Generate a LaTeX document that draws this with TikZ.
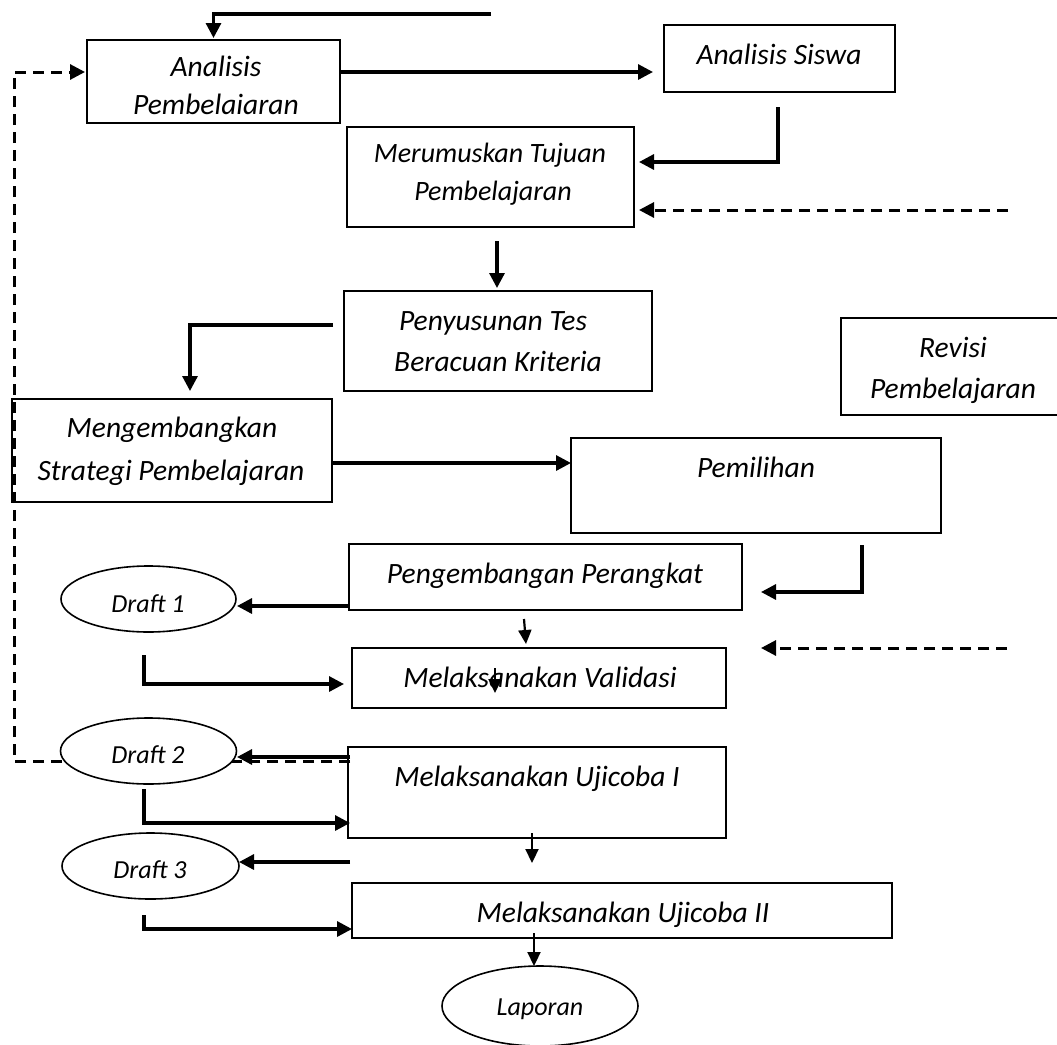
\documentclass[tikz,border=0pt]{standalone}
\usepackage{fontspec}
\setmainfont{Carlito}
\usetikzlibrary{arrows.meta,shapes.geometric}
\tikzset{
  box/.style={draw, line width=2pt, inner sep=0pt, outer sep=0pt},
  oval/.style={draw, ellipse, fill=white, line width=1.6pt, inner sep=0pt, outer sep=0pt},
  txt/.style={font=\fontsize{29.5}{34}\selectfont\itshape, inner sep=0pt, anchor=base},
  mtxt/.style={font=\fontsize{28}{34}\selectfont\itshape, inner sep=0pt, anchor=base},
  stxt/.style={font=\fontsize{26}{32}\selectfont\itshape, inner sep=0pt, anchor=base},
  arr/.style={line width=3.2pt, -{Triangle[length=15pt,width=15pt]}},
  thinarr/.style={line width=2.2pt, -{Triangle[length=14pt,width=13pt]}},
  darr/.style={line width=3pt, dash pattern=on 11pt off 7pt, -{Triangle[length=15pt,width=15pt]}},
}
\begin{document}
\begin{tikzpicture}[x=1pt,y=-1pt]
\useasboundingbox (0,0) rectangle (1057,1044);
% boxes
\node[box, minimum width=253, minimum height=83] (ap) at (213.5,81.5) {};
\node[box, minimum width=231, minimum height=67] (as) at (779.5,58.5) {};
\node[box, minimum width=287, minimum height=100] (mt) at (490.5,177) {};
\node[box, minimum width=308, minimum height=100] (pt) at (498,341) {};
\node[box, minimum width=221, minimum height=97] (rp) at (951.5,366.5) {};
\node[box, minimum width=320, minimum height=103] (me) at (172,450.5) {};
\node[box, minimum width=370, minimum height=95] (pem) at (756,485.5) {};
\node[box, minimum width=393, minimum height=66] (pp) at (545.5,577) {};
\node[box, minimum width=374, minimum height=60] (mv) at (539,678) {};
\node[box, minimum width=378, minimum height=91] (u1) at (537,792.5) {};
\node[box, minimum width=540, minimum height=55] (u2) at (622,910.5) {};
% dashed feedback line (behind ellipses)
\coordinate (fbc) at (14,761);
\draw[darr] ([xshift=2pt,yshift=31.5pt]u1.west) -- (fbc) |- ([xshift=-2pt,yshift=9.5pt]ap.west);
% ellipses
\node[oval, minimum width=175, minimum height=66] (d1) at (148.5,599) {};
\node[oval, minimum width=176, minimum height=66] (d2) at (148.5,751) {};
\node[oval, minimum width=177, minimum height=66] (d3) at (150.5,866) {};
\node[oval, minimum width=196, minimum height=80] (lap) at (540,1006) {};
% texts
\node[txt] (ap1) at (216,76) {Analisis};
\node[txt] (ap2) at (216,114) {Pembelaiaran};
\node[txt] (as1) at (779,64) {Analisis Siswa};
\node[mtxt] (mt1) at (490,162) {Merumuskan Tujuan};
\node[mtxt] (mt2) at (493,200) {Pembelajaran};
\node[txt] (pt1) at (493,330) {Penyusunan Tes};
\node[txt] (pt2) at (498,371) {Beracuan Kriteria};
\node[txt] (rp1) at (953,357) {Revisi};
\node[txt] (rp2) at (953,398) {Pembelajaran};
\node[txt] (me1) at (172,437) {Mengembangkan};
\node[txt] (me2) at (171,480) {Strategi Pembelajaran};
\node[txt] (pem1) at (756,477) {Pemilihan};
\node[txt] (pp1) at (545,583) {Pengembangan Perangkat};
\node[txt] (mv1) at (540,687) {Melaksanakan Validasi};
\node[txt] (u11) at (537,786) {Melaksanakan Ujicoba I};
\node[txt] (u21) at (623,922) {Melaksanakan Ujicoba II};
\node[stxt] (d1t) at (148,612) {Draft 1};
\node[stxt] (d2t) at (148,763) {Draft 2};
\node[stxt] (d3t) at (150,878) {Draft 3};
\node[stxt] (lapt) at (540,1015) {Laporan};
% connectors
\coordinate (topr) at (491,14);
\draw[arr] (topr) -| ([yshift=2pt]ap.north);
\draw[arr] ([yshift=9.5pt]ap.east) -- ([xshift=-11pt,yshift=-13.5pt]as.west);
\draw[arr] ([xshift=-1.5pt,yshift=-15pt]as.south) |- ([xshift=5pt,yshift=15pt]mt.east);
\coordinate (dmt) at (1008,210);
\draw[darr] (dmt) -- ([xshift=5pt,yshift=-33pt]mt.east);
\draw[arr] ([xshift=6.5pt,yshift=-14pt]mt.south) -- ([xshift=-1pt,yshift=3pt]pt.north);
\draw[arr] ([xshift=-11pt,yshift=16pt]pt.west) -| ([xshift=18pt,yshift=8pt]me.north);
\draw[arr] ([yshift=-12.5pt]me.east) -- ([yshift=22.5pt]pem.west);
\draw[arr] ([xshift=106pt,yshift=-12pt]pem.south) |- ([xshift=19pt,yshift=-15pt]pp.east);
\coordinate (dpp) at (1007,648);
\draw[darr] (dpp) -- ([xshift=35pt]mv.north east);
\draw[arr] ([yshift=-29pt]pp.west) -- ([xshift=1pt,yshift=-7pt]d1.east);
\draw[thinarr] ([xshift=-21.5pt,yshift=-9pt]pp.south) -- ([xshift=-13pt,yshift=4pt]mv.north);
\draw[thinarr] ([xshift=-44pt,yshift=10pt]mv.center) -- ([xshift=-44pt,yshift=-15pt]mv.center);
\draw[arr] ([xshift=-4.5pt,yshift=-23pt]d1.south) |- ([xshift=-8pt,yshift=-6pt]mv.west);
\draw[arr] ([xshift=2pt,yshift=35.5pt]u1.west) -- ([xshift=0.5pt,yshift=-6pt]d2.east);
\draw[arr] ([xshift=-4.5pt,yshift=-5pt]d2.south) |- ([xshift=2pt,yshift=-30.5pt]u1.west);
\draw[thinarr] ([xshift=-5pt,yshift=5pt]u1.south) -- ([xshift=-90pt,yshift=20pt]u2.north);
\draw[arr] ([xshift=2pt,yshift=-24pt]u1.south west) -- ([yshift=4pt]d3.east);
\draw[arr] ([xshift=-6.5pt,yshift=-16pt]d3.south) |- ([yshift=-18.5pt]u2.west);
\draw[thinarr] ([xshift=-88pt,yshift=5pt]u2.south) -- ([xshift=-6pt]lap.north);
\end{tikzpicture}
\end{document}
